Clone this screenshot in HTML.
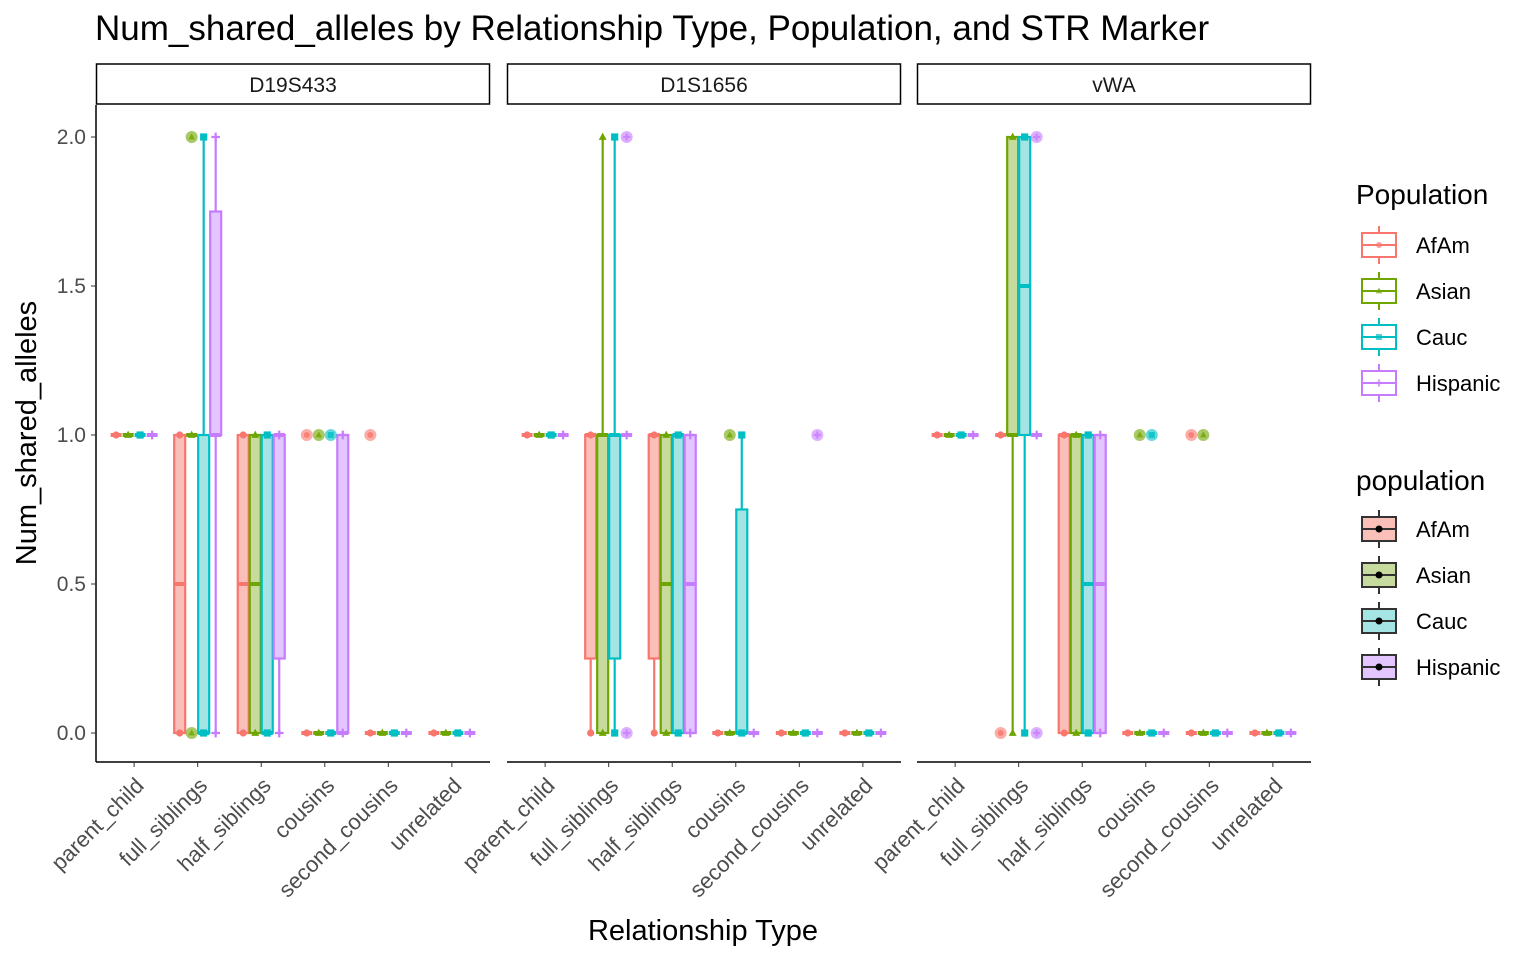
<!DOCTYPE html>
<html><head><meta charset="utf-8"><style>
body{margin:0;background:#fff}
svg text{font-family:"Liberation Sans",Arial,sans-serif}
</style></head><body>
<svg id="chart" width="1536" height="960" xmlns="http://www.w3.org/2000/svg">
<text x="95" y="40" font-size="35" fill="#000">Num_shared_alleles by Relationship Type, Population, and STR Marker</text>
<text x="703" y="940" font-size="29" text-anchor="middle">Relationship Type</text>
<text transform="translate(36,433) rotate(-90)" font-size="29" text-anchor="middle">Num_shared_alleles</text>
<g id="plot"></g>
<g id="legend"></g>
</svg>
<script>
const markers = ["D19S433","D1S1656","vWA"];
const categories = ["parent_child","full_siblings","half_siblings","cousins","second_cousins","unrelated"];
const populations = ["AfAm","Asian","Cauc","Hispanic"];
const yTicks = [0,0.5,1,1.5,2];
const yTickLabels = ["0.0","0.5","1.0","1.5","2.0"];
// boxes: [marker, category, population, min, q1, median, q3, max]
const boxes = [
[0,0,0,1,1,1,1,1],[0,0,1,1,1,1,1,1],[0,0,2,1,1,1,1,1],[0,0,3,1,1,1,1,1],
[0,1,0,0,0,0.5,1,1],[0,1,1,1,1,1,1,1],[0,1,2,0,0,0,1,2],[0,1,3,0,1,1,1.75,2],
[0,2,0,0,0,0.5,1,1],[0,2,1,0,0,0.5,1,1],[0,2,2,0,0,0,1,1],[0,2,3,0,0.25,1,1,1],
[0,3,0,0,0,0,0,0],[0,3,1,0,0,0,0,0],[0,3,2,0,0,0,0,0],[0,3,3,0,0,0,1,1],
[0,4,0,0,0,0,0,0],[0,4,1,0,0,0,0,0],[0,4,2,0,0,0,0,0],[0,4,3,0,0,0,0,0],
[0,5,0,0,0,0,0,0],[0,5,1,0,0,0,0,0],[0,5,2,0,0,0,0,0],[0,5,3,0,0,0,0,0],
[1,0,0,1,1,1,1,1],[1,0,1,1,1,1,1,1],[1,0,2,1,1,1,1,1],[1,0,3,1,1,1,1,1],
[1,1,0,0,0.25,1,1,1],[1,1,1,0,0,1,1,2],[1,1,2,0,0.25,1,1,2],[1,1,3,1,1,1,1,1],
[1,2,0,0,0.25,1,1,1],[1,2,1,0,0,0.5,1,1],[1,2,2,0,0,1,1,1],[1,2,3,0,0,0.5,1,1],
[1,3,0,0,0,0,0,0],[1,3,1,0,0,0,0,0],[1,3,2,0,0,0,0.75,1],[1,3,3,0,0,0,0,0],
[1,4,0,0,0,0,0,0],[1,4,1,0,0,0,0,0],[1,4,2,0,0,0,0,0],[1,4,3,0,0,0,0,0],
[1,5,0,0,0,0,0,0],[1,5,1,0,0,0,0,0],[1,5,2,0,0,0,0,0],[1,5,3,0,0,0,0,0],
[2,0,0,1,1,1,1,1],[2,0,1,1,1,1,1,1],[2,0,2,1,1,1,1,1],[2,0,3,1,1,1,1,1],
[2,1,0,1,1,1,1,1],[2,1,1,0,1,1,2,2],[2,1,2,0,1,1.5,2,2],[2,1,3,1,1,1,1,1],
[2,2,0,0,0,1,1,1],[2,2,1,0,0,1,1,1],[2,2,2,0,0,0.5,1,1],[2,2,3,0,0,0.5,1,1],
[2,3,0,0,0,0,0,0],[2,3,1,0,0,0,0,0],[2,3,2,0,0,0,0,0],[2,3,3,0,0,0,0,0],
[2,4,0,0,0,0,0,0],[2,4,1,0,0,0,0,0],[2,4,2,0,0,0,0,0],[2,4,3,0,0,0,0,0],
[2,5,0,0,0,0,0,0],[2,5,1,0,0,0,0,0],[2,5,2,0,0,0,0,0],[2,5,3,0,0,0,0,0]
];
// outliers: [marker, category, population, value]
const outliers = [
[0,1,1,2],[0,1,1,0],[0,3,0,1],[0,3,1,1],[0,3,2,1],[0,4,0,1],
[1,1,3,2],[1,1,3,0],[1,3,1,1],[1,4,3,1],
[2,1,0,0],[2,1,3,2],[2,1,3,0],[2,3,1,1],[2,3,2,1],[2,4,0,1],[2,4,1,1]
];
const colors = ["#F8766D","#6FA500","#00BFC4","#C77CFF"];
const fills = ["#FBBFBA","#C7DB9F","#A5E4E5","#E3C6FF"];
const NS = "http://www.w3.org/2000/svg";
const plotG = document.getElementById('plot');
const legendG = document.getElementById('legend');
function mk(tag, attrs, parent){const e=document.createElementNS(NS,tag);for(const k in attrs)e.setAttribute(k,attrs[k]);(parent||plotG).appendChild(e);return e;}
const panelLeft=[96,507,917], panelW=394, plotTop=105, plotBottom=762;
const step = panelW/(categories.length-1+1.2);
function xCat(p,c){return panelLeft[p]+(0.6+c)*step;}
function xPop(p,c,j){return xCat(p,c)+(j-1.5)*12;}
function y(v){return 733-v*298;}
function shape(j,cx,cy,r,color,opacity,parent){
  let e;
  if(j===0) e=mk('circle',{cx:cx,cy:cy,r:r,fill:color},parent);
  else if(j===1) e=mk('polygon',{points:`${cx},${cy-r*1.2} ${cx-r*1.1},${cy+r*0.8} ${cx+r*1.1},${cy+r*0.8}`,fill:color},parent);
  else if(j===2) e=mk('rect',{x:cx-r,y:cy-r,width:2*r,height:2*r,fill:color},parent);
  else e=mk('path',{d:`M${cx-r*1.2},${cy}H${cx+r*1.2}M${cx},${cy-r*1.2}V${cy+r*1.2}`,stroke:color,'stroke-width':2.2},parent);
  e.setAttribute('opacity',opacity);
  return e;
}
markers.forEach((m,p)=>{
  const L=panelLeft[p];
  const s=mk('rect',{x:L+0.5,y:64,width:panelW-1,height:40,fill:'#fff',stroke:'#000','stroke-width':1.5});
  
  
  const t=mk('text',{x:L+panelW/2,y:92,'font-size':21,'text-anchor':'middle',fill:'#1a1a1a'});t.textContent=m;
  
  
  const ax=mk('line',{x1:L,x2:L+panelW,y1:plotBottom,y2:plotBottom,stroke:'#000','stroke-width':1.5});
  
  
  categories.forEach((c,i)=>{
    const x=xCat(p,i);
    mk('line',{x1:x,x2:x,y1:plotBottom,y2:plotBottom+5,stroke:'#333','stroke-width':1});
    const tl=mk('text',{transform:`translate(${x+11},${plotBottom+25}) rotate(-45)`,'font-size':22,'text-anchor':'end',fill:'#4d4d4d'});
    tl.textContent=c;
    
    
  });
});
const yax=mk('line',{x1:96,x2:96,y1:plotTop,y2:plotBottom,stroke:'#000','stroke-width':1.5});


yTicks.forEach((v,i)=>{
  mk('line',{x1:91,x2:96,y1:y(v),y2:y(v),stroke:'#333'});
  const t=mk('text',{x:86,y:y(v)+7,'font-size':21,'text-anchor':'end',fill:'#4d4d4d'});t.textContent=yTickLabels[i];
  
  
});
boxes.forEach(b=>{
  const [p,c,j,mn,q1,md,q3,mx]=b;
  const cx=xPop(p,c,j), col=colors[j];
  const g=mk('g',{});
  
  
  if(mx>q3) mk('line',{x1:cx,x2:cx,y1:y(q3),y2:y(mx),stroke:col,'stroke-width':2.2},g);
  if(mn<q1) mk('line',{x1:cx,x2:cx,y1:y(mn),y2:y(q1),stroke:col,'stroke-width':2.2},g);
  mk('rect',{x:cx-5.5,y:y(q3),width:11,height:Math.max(0,y(q1)-y(q3)),fill:fills[j],stroke:col,'stroke-width':2.2},g);
  mk('line',{x1:cx-5.5,x2:cx+5.5,y1:y(md),y2:y(md),stroke:col,'stroke-width':4},g);
  shape(j,cx,y(mn),3.6,col,1,g);
  if(mx!==mn) shape(j,cx,y(mx),3.6,col,1,g);
});
outliers.forEach(o=>{
  const [p,c,j,v]=o;
  const cx=xPop(p,c,j);
  const g=mk('g',{});
  
  
  mk('circle',{cx:cx,cy:y(v),r:6,fill:colors[j],opacity:0.6},g);
  shape(j,cx,y(v),3,colors[j],0.8,g);
});
function legendBlock(title,ty,startY,filled){
  const t=mk('text',{x:1356,y:ty,'font-size':28,fill:'#000'},legendG);t.textContent=title;
  
  
  populations.forEach((pn,j)=>{
    const cy=startY+j*46;
    const g=mk('g',{},legendG);
    
    
    const col=filled?'#333':colors[j];
    mk('line',{x1:1379,x2:1379,y1:cy-19,y2:cy+19,stroke:col,'stroke-width':2},g);
    mk('rect',{x:1362,y:cy-12,width:34,height:24,fill:filled?fills[j]:'#fff',stroke:col,'stroke-width':2},g);
    mk('line',{x1:1362,x2:1396,y1:cy,y2:cy,stroke:col,'stroke-width':2},g);
    if(filled) mk('circle',{cx:1379,cy:cy,r:3.5,fill:'#000'},g);
    else shape(j,1379,cy,3,colors[j],0.7,g);
    const l=mk('text',{x:1416,y:cy+8,'font-size':22,fill:'#000'},g);l.textContent=pn;
  });
}
legendBlock('Population',204,245,false);
legendBlock('population',490,529,true);
</script>
</body></html>
